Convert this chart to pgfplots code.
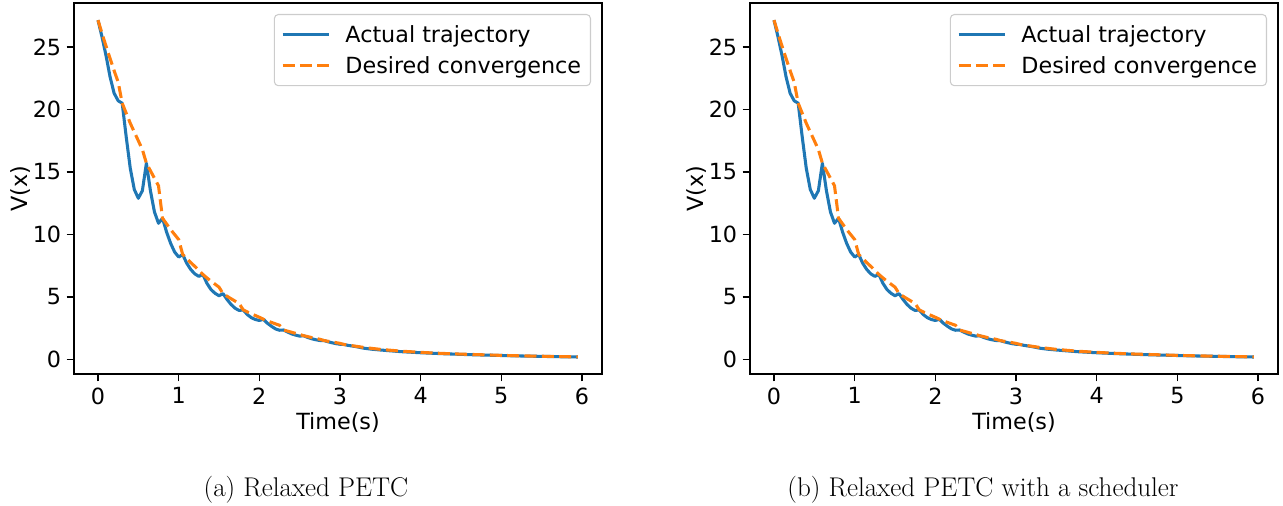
\documentclass[border=0pt]{standalone}
\usepackage{fontspec}
\usepackage{pgfplots}
\usepackage{pgfplotstable}
\pgfplotsset{compat=1.18}
\newfontfamily\dejavu{DejaVu Sans}
\newcommand\chartfont{\dejavu\fontsize{16.7}{20}\selectfont}
\definecolor{tabblue}{HTML}{1F77B4}
\definecolor{taborange}{HTML}{FF7F0E}

\pgfplotstableread{
t V
0.00 27.15
0.05 25.8
0.10 24.3
0.15 22.6
0.20 21.3
0.25 20.7
0.30 20.5
0.35 17.8
0.40 15.3
0.45 13.6
0.50 12.9
0.55 13.5
0.60 15.7
0.65 13.5
0.70 11.8
0.75 10.9
0.80 11.3
0.85 10.2
0.90 9.3
0.95 8.6
1.00 8.2
1.05 8.4
1.10 7.7
1.15 7.2
1.20 6.85
1.25 6.65
1.30 6.8
1.35 6.1
1.40 5.6
1.45 5.3
1.50 5.1
1.55 5.27
1.60 4.8
1.65 4.4
1.70 4.1
1.75 3.92
1.80 3.97
1.85 3.6
1.90 3.35
1.95 3.2
2.00 3.12
2.05 3.22
2.10 2.9
2.15 2.66
2.20 2.45
2.25 2.34
2.30 2.36
2.35 2.2
2.40 2.05
2.45 1.95
2.50 1.87
2.55 1.9
2.60 1.76
2.65 1.66
2.70 1.58
2.75 1.52
2.80 1.52
2.85 1.42
2.90 1.34
2.95 1.27
3.00 1.22
3.05 1.2
3.10 1.13
3.20 1.03
3.30 0.9
3.40 0.82
3.50 0.76
3.75 0.63
4.00 0.54
4.25 0.47
4.50 0.41
4.75 0.36
5.00 0.32
5.25 0.28
5.50 0.25
5.75 0.22
5.95 0.20
}\actual

\pgfplotstableread{
t V
0.00 27.15
0.05 26.08
0.10 25.06
0.15 24.07
0.20 23.1
0.25 22.2
0.30 20.5
0.35 19.7
0.40 18.9
0.45 18.2
0.50 17.5
0.55 16.8
0.60 15.7
0.65 15.1
0.70 14.5
0.75 13.9
0.80 11.3
0.85 10.85
0.90 10.4
0.95 10.0
1.00 9.6
1.05 8.4
1.10 8.07
1.15 7.75
1.20 7.45
1.25 7.15
1.30 6.8
1.35 6.53
1.40 6.27
1.45 6.03
1.50 5.79
1.55 5.27
1.60 5.06
1.65 4.86
1.70 4.67
1.75 4.48
1.80 3.97
1.85 3.81
1.90 3.66
1.95 3.52
2.00 3.38
2.05 3.22
2.10 3.09
2.15 2.97
2.20 2.85
2.25 2.74
2.30 2.36
2.35 2.27
2.40 2.18
2.45 2.09
2.50 2.01
2.55 1.9
2.60 1.83
2.65 1.75
2.70 1.68
2.75 1.62
2.80 1.52
2.85 1.46
2.90 1.40
2.95 1.35
3.00 1.29
3.05 1.2
3.30 0.96
3.50 0.81
3.75 0.67
4.00 0.57
4.25 0.49
4.50 0.43
4.75 0.38
5.00 0.33
5.25 0.29
5.50 0.26
5.75 0.23
5.95 0.21
}\desired

\pgfplotsset{
  petc/.style={
    width=396pt, height=278.25pt, scale only axis,
    xmin=-0.2975, xmax=6.248, ymin=-1.16, ymax=28.52,
    xtick={0,1,2,3,4,5,6}, ytick={0,5,10,15,20,25},
    tick pos=left, tick align=outside,
    major tick length=5.6pt,
    every tick/.style={black, line width=1.2pt},
    axis line style={black, line width=1.2pt},
    /pgf/number format/assume math mode=true,
    tick label style={font=\chartfont},
    xticklabel style={yshift=-1pt},
    yticklabel style={xshift=-0.5pt},
    xlabel={Time(s)}, ylabel={V(x)},
    label style={font=\chartfont},
    xlabel style={at={(axis description cs:0.5,0)}, anchor=base, yshift=-42pt},
    ylabel style={at={(axis description cs:-0.102,0.5)}, anchor=center},
    legend cell align=left,
    legend image code/.code={\draw[##1] (0pt,0pt) -- (35pt,0pt);},
    legend style={at={(1,1)}, anchor=north east, xshift=-8.25pt, yshift=-8.25pt,
      draw=black!20, line width=0.8pt, rounded corners=3pt, fill=white,
      font=\chartfont, inner xsep=5pt, inner ysep=6pt, row sep=5pt,
      /tikz/every odd column/.append style={column sep=9pt}},
  }
}

\begin{document}
\begin{tikzpicture}
\useasboundingbox (0,0) rectangle (962.25pt,379.5pt);
\begin{axis}[petc, at={(55.5pt,99pt)}, anchor=south west]
  \addplot[tabblue, line width=2.3pt, line join=round] table[x=t,y=V] {\actual};
  \addlegendentry{Actual trajectory}
  \addplot[taborange, line width=2.3pt, dash pattern=on 9pt off 4pt] table[x=t,y=V] {\desired};
  \addlegendentry{Desired convergence}
\end{axis}
\begin{axis}[petc, at={(562.5pt,99pt)}, anchor=south west]
  \addplot[tabblue, line width=2.3pt, line join=round] table[x=t,y=V] {\actual};
  \addlegendentry{Actual trajectory}
  \addplot[taborange, line width=2.3pt, dash pattern=on 9pt off 4pt] table[x=t,y=V] {\desired};
  \addlegendentry{Desired convergence}
\end{axis}
\node[anchor=base, font=\fontsize{20.3}{24}\selectfont] at (229.5pt,6.75pt) {(a) Relaxed PETC};
\node[anchor=base, font=\fontsize{20.3}{24}\selectfont] at (737.25pt,6.75pt) {(b) Relaxed PETC with a scheduler};
\end{tikzpicture}
\end{document}
